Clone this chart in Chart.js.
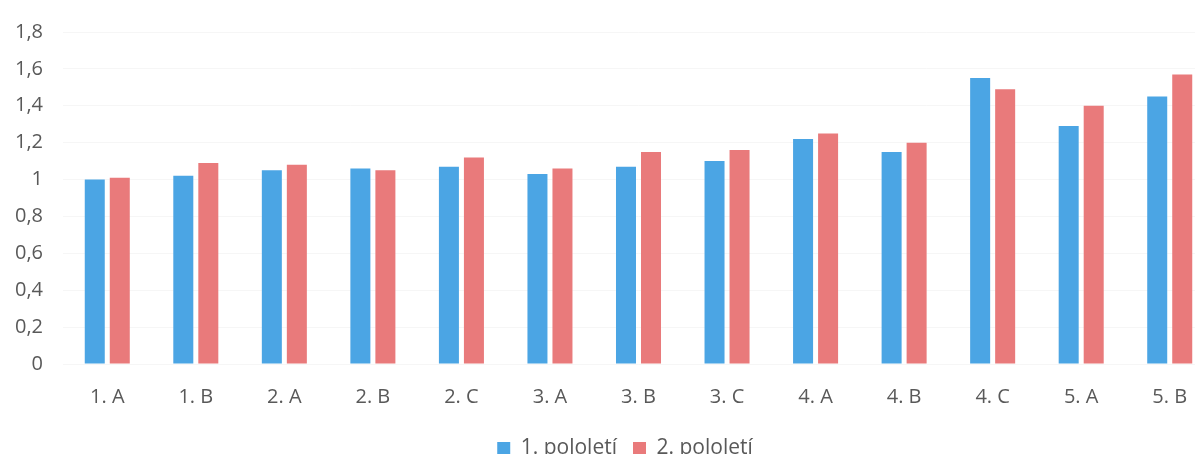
<!DOCTYPE html>
<html>
<head>
<meta charset="utf-8">
<script src="https://cdn.jsdelivr.net/npm/chart.js@4"></script>
<style>
  html, body { margin: 0; padding: 0; background: #fff; overflow: hidden; }
  .chart-container { position: relative; width: 1240px; height: 469px; }
</style>
</head>
<body>
<div class="chart-container">
  <canvas id="chart"></canvas>
</div>
<script>
// Třídy
const categories = ['1. A', '1. B', '2. A', '2. B', '2. C', '3. A', '3. B', '3. C', '4. A', '4. B', '4. C', '5. A', '5. B'];
// 1. pololetí
const firstHalf = [1.00, 1.02, 1.05, 1.06, 1.07, 1.03, 1.07, 1.10, 1.22, 1.15, 1.55, 1.29, 1.45];
// 2. pololetí
const secondHalf = [1.01, 1.09, 1.08, 1.05, 1.12, 1.06, 1.15, 1.16, 1.25, 1.20, 1.49, 1.40, 1.57];
// hodnoty osy Y
const yTicks = [0, 0.2, 0.4, 0.6, 0.8, 1, 1.2, 1.4, 1.6, 1.8];

const fontFamily = '"Open Sans", sans-serif';
const textColor = '#595959';

const ctx = document.getElementById('chart').getContext('2d');
new Chart(ctx, {
  type: 'bar',
  data: {
    labels: categories,
    datasets: [
      {
        label: '1. pololetí',
        data: firstHalf,
        backgroundColor: '#4ba5e4',
        barPercentage: 0.8,
        categoryPercentage: 0.565
      },
      {
        label: '2. pololetí',
        data: secondHalf,
        backgroundColor: '#e97a7b',
        barPercentage: 0.8,
        categoryPercentage: 0.565
      }
    ]
  },
  options: {
    responsive: true,
    maintainAspectRatio: false,
    animation: false,
    layout: {
      padding: { left: 10, right: 0, top: 0, bottom: 0 }
    },
    plugins: {
      legend: {
        position: 'bottom',
        labels: {
          boxWidth: 13,
          boxHeight: 13,
          padding: 16,
          color: textColor,
          font: { family: fontFamily, size: 21 }
        }
      },
      tooltip: { enabled: false }
    },
    scales: {
      x: {
        grid: { display: false },
        border: { display: false },
        ticks: {
          color: textColor,
          padding: 13,
          maxRotation: 0,
          font: { family: fontFamily, size: 20 }
        }
      },
      y: {
        min: 0,
        max: 1.8,
        afterBuildTicks: (axis) => {
          axis.ticks = yTicks.map(v => ({ value: v }));
        },
        afterFit: (axis) => { axis.width = 53; },
        grid: { color: 'rgba(0, 0, 0, 0.035)', drawTicks: false },
        border: { display: false },
        ticks: {
          color: textColor,
          padding: 20,
          font: { family: fontFamily, size: 20 },
          callback: (value) => String(Number(value.toFixed(1))).replace('.', ',')
        }
      },
      // prázdná osa vpravo, jen aby graf přesahoval okraj jako v originále
      yRight: {
        position: 'right',
        grid: { display: false },
        border: { display: false },
        ticks: { display: false },
        afterFit: (axis) => { axis.width = 26; }
      }
    }
  }
});
</script>
</body>
</html>
